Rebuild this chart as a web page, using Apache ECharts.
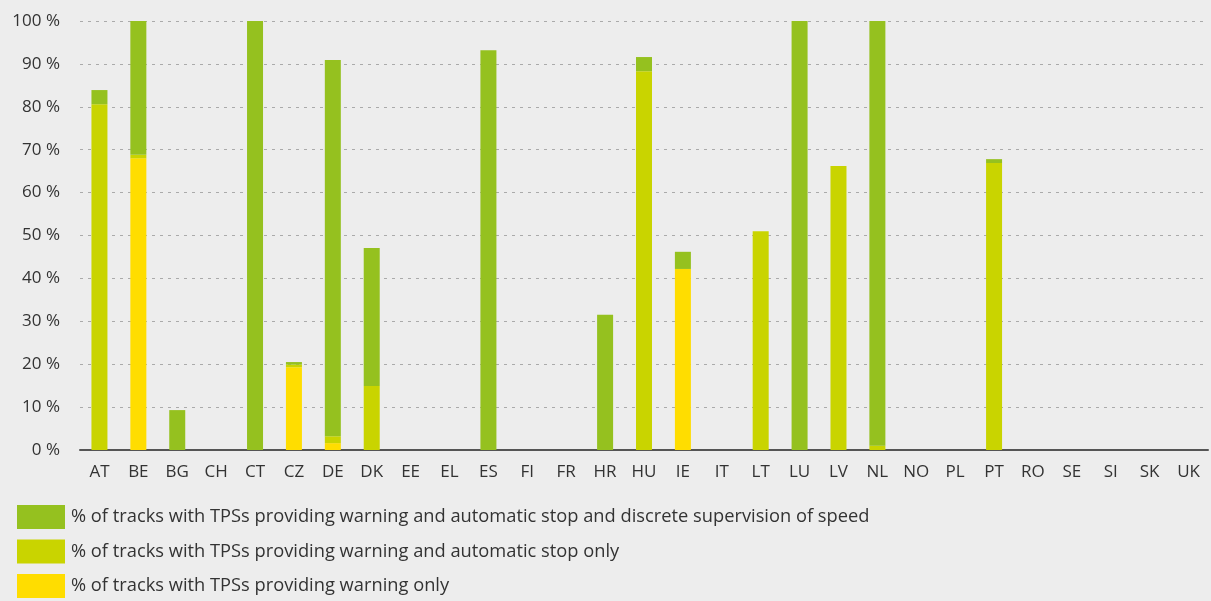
<!DOCTYPE html>
<html>
<head>
<meta charset="utf-8">
<script src="https://cdn.jsdelivr.net/npm/echarts@6/dist/echarts.min.js"></script>
<style>
  html, body { margin: 0; padding: 0; background: #ededed; }
  #chart { width: 1211px; height: 601px; }
</style>
</head>
<body>
<div id="chart"></div>
<script>
const countries = ['AT', 'BE', 'BG', 'CH', 'CT', 'CZ', 'DE', 'DK', 'EE', 'EL', 'ES', 'FI', 'FR', 'HR',
  'HU', 'IE', 'IT', 'LT', 'LU', 'LV', 'NL', 'NO', 'PL', 'PT', 'RO', 'SE', 'SI', 'SK', 'UK']

// warning only (bottom of stack)
const warningOnly = [0, 68, 0, 0, 0, 19.3, 1.6, 0, 0, 0, 0, 0, 0, 0,
  0, 42.2, 0, 0, 0, 0, 0, 0, 0, 0, 0, 0, 0, 0, 0]
// warning and automatic stop only
const warningStop = [80.6, 0.8, 0, 0, 0, 0.6, 1.6, 14.9, 0, 0, 0, 0, 0, 0,
  88.3, 0, 0, 51, 0, 66.2, 1, 0, 0, 66.9, 0, 0, 0, 0, 0]
// warning, automatic stop and discrete supervision of speed
const warningStopSpeed = [3.3, 31.2, 9.3, 0, 100, 0.6, 87.7, 32.2, 0, 0, 93.2, 0, 0, 31.5,
  3.3, 4, 0, 0, 100, 0, 99, 0, 0, 0.9, 0, 0, 0, 0, 0]

const names = [
  '% of tracks with TPSs providing warning and automatic stop and discrete supervision of speed',
  '% of tracks with TPSs providing warning and automatic stop only',
  '% of tracks with TPSs providing warning only'
]

const chart = echarts.init(document.getElementById('chart'))
const font = '"Open Sans", "Noto Sans", sans-serif'

chart.setOption({
  backgroundColor: '#ededed',
  animation: false,
  textStyle: { fontFamily: font },
  grid: { left: 80, right: 3, top: 21, bottom: 151 },
  legend: {
    data: names,
    orient: 'vertical',
    left: 17,
    top: 505,
    padding: 0,
    itemWidth: 48,
    itemHeight: 24,
    itemGap: 10.5,
    icon: 'rect',
    textStyle: { fontSize: 18.3, color: '#333', fontFamily: font, padding: [0, 0, 0, 1] }
  },
  xAxis: {
    type: 'category',
    data: countries,
    axisLine: { lineStyle: { color: '#555', width: 2 } },
    axisTick: { show: false },
    axisLabel: { fontSize: 17, color: '#333', margin: 14, interval: 0 }
  },
  yAxis: {
    type: 'value',
    min: 0,
    max: 100,
    interval: 10,
    axisLine: { show: false },
    axisTick: { show: false },
    axisLabel: { formatter: '{value} %', fontSize: 17, color: '#333', margin: 20 },
    splitLine: { lineStyle: { color: '#aaa', type: [3, 5], width: 1 } }
  },
  series: [
    {
      name: names[2], type: 'bar', stack: 'tps', barWidth: 16,
      itemStyle: { color: '#ffdd00' }, data: warningOnly
    },
    {
      name: names[1], type: 'bar', stack: 'tps', barWidth: 16,
      itemStyle: { color: '#c9d400' }, data: warningStop
    },
    {
      name: names[0], type: 'bar', stack: 'tps', barWidth: 16,
      itemStyle: { color: '#95c11f' }, data: warningStopSpeed
    }
  ]
})
</script>
</body>
</html>
